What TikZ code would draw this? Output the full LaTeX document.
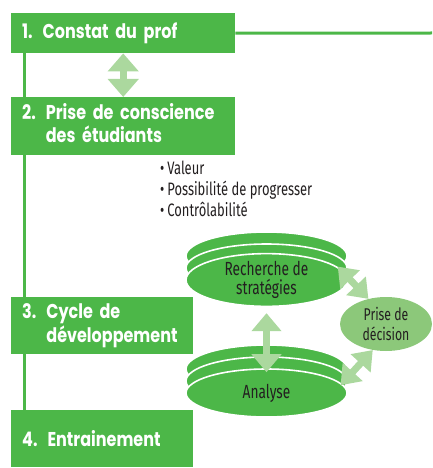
\documentclass[tikz,border=0pt]{standalone}
\usepackage{fontspec}
\setmainfont{Poppins}
\newfontfamily\stagefont[FakeStretch=0.8]{Poppins}
\newfontfamily\condfont[FakeStretch=0.72]{Fira Sans}
\usetikzlibrary{shapes.geometric,arrows.meta}
\pgfdeclarelayer{bg}
\pgfdeclarelayer{fg}
\pgfsetlayers{bg,main,fg}

\definecolor{stepgreen}{HTML}{4CB748}
\definecolor{arrowgreen}{HTML}{ABD89E}
\definecolor{choicegreen}{HTML}{8CC87A}
\definecolor{labelgray}{HTML}{231F20}

\newcommand{\stagetext}[3]{\begin{tabular}{@{}l@{ }l@{}}#1 & #2\\ & #3\end{tabular}}

\tikzset{
  stagebox/.style={fill=stepgreen, text=white, anchor=north west, inner xsep=11pt, inner ysep=0pt,
    align=left, font=\stagefont\bfseries\fontsize{20}{23}\selectfont},
  disk/.style={ellipse, fill=stepgreen, draw=white, line width=1.6pt, minimum width=161pt,
    minimum height=48pt, inner sep=0pt, align=center, text=labelgray,
    font=\condfont\fontsize{19}{19}\selectfont},
  choice/.style={ellipse, fill=choicegreen, minimum width=92pt, minimum height=54pt, inner sep=0pt,
    align=center, text=labelgray, font=\condfont\fontsize{17}{20}\selectfont},
  twoway/.style={arrowgreen, line width=7pt,
    {Triangle[width=#1,length=18pt]}-{Triangle[width=#1,length=18pt]}},
  twoway/.default=30pt,
  rail/.style={stepgreen, line width=3pt}
}

\begin{document}
\begin{tikzpicture}[x=1pt, y=-1pt]
    \useasboundingbox (0,0) rectangle (432,468);

    % etapes
    \node[stagebox, minimum width=224pt, minimum height=40pt, text width=202pt] (constat) at (11,13) {1. Constat du prof};
    \node[stagebox, minimum width=224pt, minimum height=58pt, text width=202pt] (conscience) at (11,97) {\stagetext{2.}{Prise de conscience}{des étudiants}};
    \node[stagebox, minimum width=182pt, minimum height=57pt, text width=160pt] (cycle) at (11,297) {\stagetext{3.}{Cycle de}{développement}};
    \node[stagebox, minimum width=182pt, minimum height=57pt, text width=160pt] (entrainement) at (11,410) {4. Entrainement};

    \coordinate (railend) at (432,33);
    \begin{pgfonlayer}{bg}
        \draw[rail] ([xshift=13pt]constat.south west) -- ([xshift=13pt]entrainement.north west);
        \draw[rail] (constat.east) -- (railend);
    \end{pgfonlayer}

    \node[anchor=north west, inner sep=0pt, align=left, text=labelgray, font=\condfont\fontsize{18}{21}\selectfont] (criteres) at (160,161)
        {\textbullet\,Valeur\\ \textbullet\,Possibilité de progresser\\ \textbullet\,Contrôlabilité};

    % cycle
    \node[disk] (rechback2) at (266.5,256) {};
    \node[disk] (rechback1) at (266.5,268) {};
    \node[disk] (rech) at (266.5,280) {Recherche de\\stratégies};
    \node[disk] (anaback2) at (266.5,369) {};
    \node[disk] (anaback1) at (266.5,381) {};
    \node[disk] (ana) at (266.5,393) {Analyse};
    \node[choice] (prise) at (386,324) {Prise de\\décision};

    \begin{pgfonlayer}{fg}
        \draw[twoway] (constat.south) -- (conscience.north);
        \draw[twoway=29pt, shorten <=6pt, shorten >=-4pt] (rech.south) -- (ana.north);
        \draw[twoway=26pt, shorten <=-1pt] (rech.10) -- (prise.125);
        \draw[twoway=26pt, shorten <=-2pt] (ana.7) -- (prise.243);
    \end{pgfonlayer}
\end{tikzpicture}
\end{document}
